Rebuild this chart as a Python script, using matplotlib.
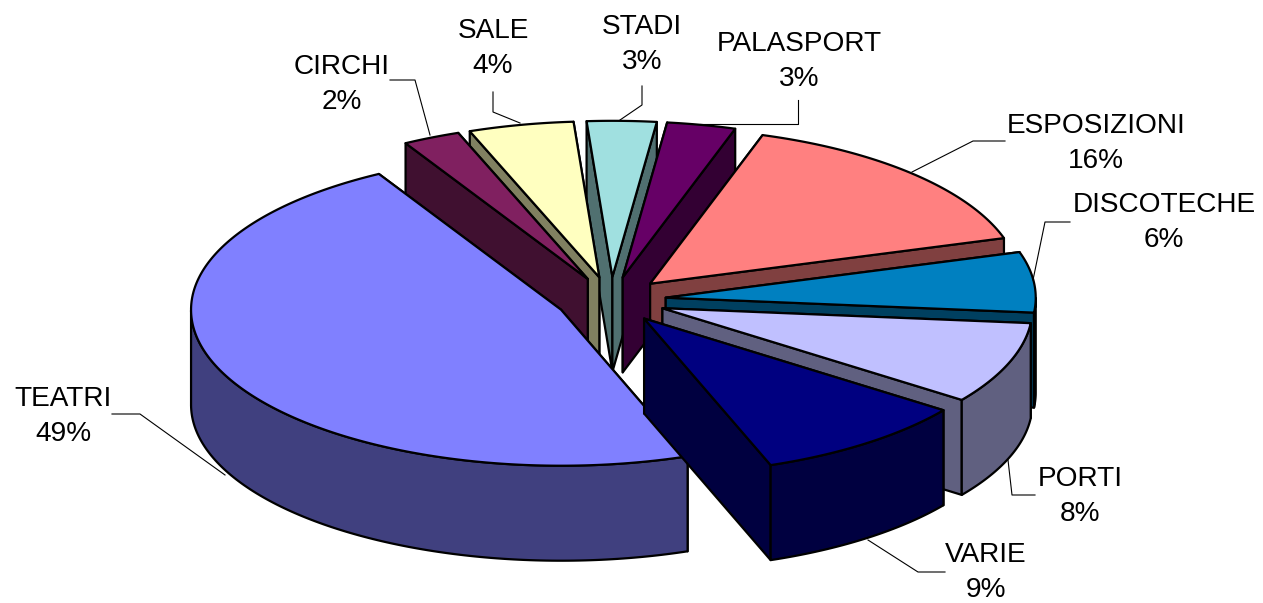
import numpy as np
import matplotlib
matplotlib.use('Agg')
import matplotlib.pyplot as plt
from matplotlib.patches import Polygon

labels = ['TEATRI', 'CIRCHI', 'SALE', 'STADI', 'PALASPORT', 'ESPOSIZIONI', 'DISCOTECHE', 'PORTI', 'VARIE']
values = [49, 2, 4, 3, 3, 16, 6, 8, 9]
# the slices as they look in the tilted picture, in degrees on the ellipse
# (the 3d view squeezes teatri, so these are not exactly value * 3.6)
spans = [170.5, 9, 16.5, 10.9, 10.8, 55.3, 22.5, 30.5, 34]
top_colors = ['#8080FF', '#802060', '#FFFFC0', '#A0E0E0', '#660066', '#FF8080', '#0080C0', '#C0C0FF', '#000080']
side_colors = ['#40407F', '#401030', '#808060', '#507070', '#330033', '#804040', '#004060', '#606080', '#000040']

# pie geometry in image pixels
cx, cy = 611, 300
rx, ry = 370, 156
depth = 95
explode = 55
start_angle = 119.5  # where teatri ends, circhi and the rest go clockwise from here

label_pos = [(63, 415), (342, 83), (493, 47), (642, 43), (799, 60), (1096, 142), (1164, 221), (1080, 495), (986, 571)]
leaders = [
    [(112, 414), (140, 414), (225, 475)],
    [(390, 80), (415, 80), (430, 135)],
    [(493, 92), (493, 112), (520, 123)],
    [(642, 86), (642, 105), (620, 120)],
    [(798, 100), (798, 124), (700, 124)],
    [(1005, 141), (973, 141), (912, 172)],
    [(1070, 222), (1045, 222), (1033, 280)],
    [(1035, 495), (1012, 495), (1008, 460)],
    [(945, 572), (918, 572), (868, 540)],
]

plt.rcParams['font.family'] = ['Liberation Sans', 'DejaVu Sans']

fig = plt.figure(figsize=(12.63, 6.03), dpi=100)
ax = fig.add_axes([0, 0, 1, 1])
ax.set_xlim(0, 1263)
ax.set_ylim(603, 0)
ax.axis('off')


def rim(x0, y0, a):
    a = np.radians(a)
    return x0 + rx * np.cos(a), y0 - ry * np.sin(a)


def face(pts, color, z):
    ax.add_patch(Polygon(pts, closed=True, fc=color, ec='black', lw=1.6, joinstyle='round', zorder=z))


slices = [(0, start_angle + spans[0], start_angle)]
hi = start_angle
for i, s in enumerate(spans[1:], start=1):
    slices.append((i, hi, hi - s))
    hi -= s

# back slices first
order = sorted(slices, key=lambda t: -np.sin(np.radians((t[1] + t[2]) / 2)))
for z, (i, hi, lo) in enumerate(order):
    mid = np.radians((hi + lo) / 2)
    ox = cx + explode * np.cos(mid)
    oy = cy - explode * ry / rx * np.sin(mid)
    base = z * 5
    # the radial face nearer to the viewer goes on top of the other one
    for a in sorted((hi, lo), key=lambda a: -np.sin(np.radians(a))):
        x, y = rim(ox, oy, a)
        face([(ox, oy), (x, y), (x, y + depth), (ox, oy + depth)], side_colors[i], base + 1)
    angs = np.linspace(lo, hi, 200)
    low = angs[np.sin(np.radians(angs)) <= 0]
    if len(low) > 1:
        x, y = rim(ox, oy, low)
        xs = np.concatenate([x, x[::-1]])
        ys = np.concatenate([y, (y + depth)[::-1]])
        face(np.column_stack([xs, ys]), side_colors[i], base + 2)
    x, y = rim(ox, oy, angs)
    face(np.column_stack([np.r_[ox, x], np.r_[oy, y]]), top_colors[i], base + 3)

for pts in leaders:
    p = np.array(pts)
    ax.plot(p[:, 0], p[:, 1], color='black', lw=0.8, zorder=100)

for name, v, (x, y) in zip(labels, values, label_pos):
    ax.text(x, y + 1.5, f'{name}\n{v}%', ha='center', va='center', fontsize=20.2, linespacing=1.43, zorder=101)

fig.savefig('out.png', dpi=100)
